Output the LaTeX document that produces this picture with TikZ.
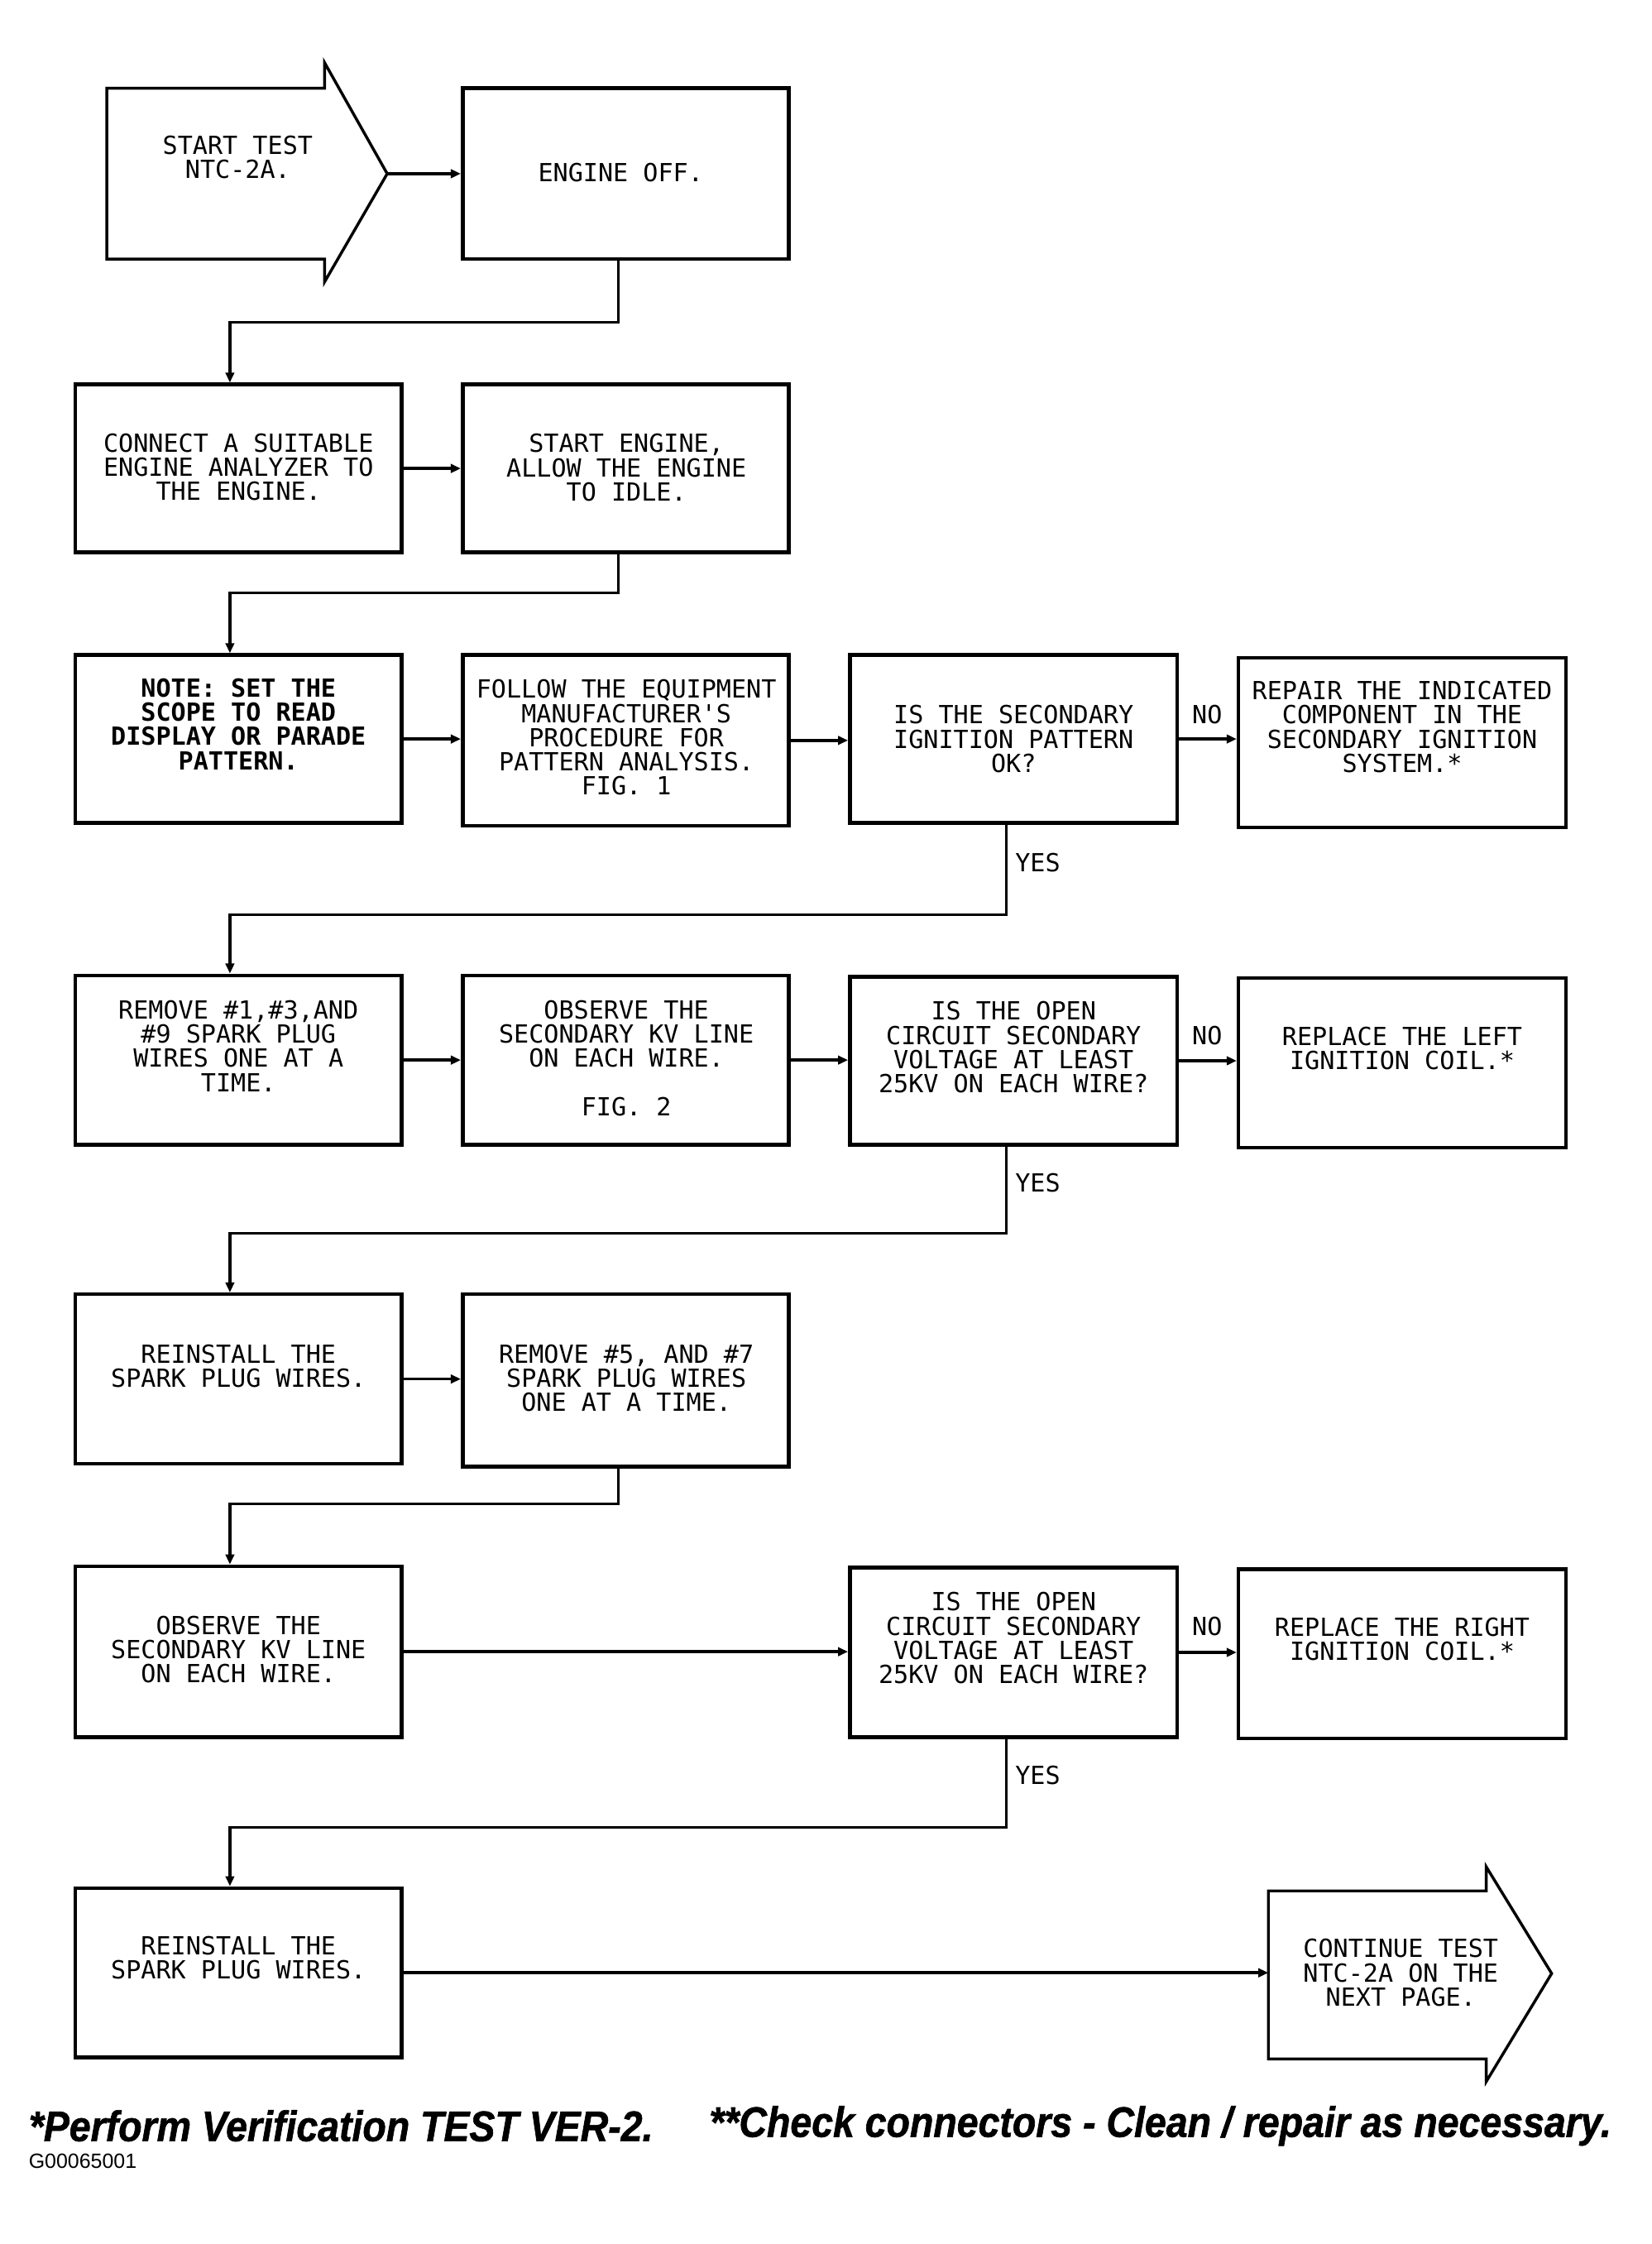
\documentclass[tikz,border=0pt]{standalone}
\usepackage{fontspec}
\usetikzlibrary{calc,arrows.meta}
\newfontfamily\plotfont{DejaVu Sans Mono}
\newfontfamily\notefont{Liberation Sans}[FakeStretch=0.9,FakeBold=1.2]
\newfontfamily\codefont{Liberation Sans}
\begin{document}
\begin{tikzpicture}[x=1pt,y=-1pt,
  box/.style={draw,line width=2.6pt,inner sep=0pt,minimum width=229pt,minimum height=119pt},
  arrowshape/.style={draw,line width=2pt,line join=miter},
  txt/.style={align=center,inner sep=0pt,font=\plotfont\fontsize{17.5}{17}\selectfont},
  boldtxt/.style={txt,font=\plotfont\bfseries\fontsize{17.5}{17}\selectfont},
  conn/.style={line width=2pt,-{Triangle[length=7pt,width=6pt]}},
  lbl/.style={inner sep=0pt,font=\plotfont\fontsize{17.5}{17}\selectfont},
  foot/.style={anchor=west,inner sep=0pt,font=\notefont\bfseries\itshape\fontsize{30}{31}\selectfont}]
\useasboundingbox (0,0) rectangle (1160,1576);

% start arrow
\draw[arrowshape] (75,62) -- (228,62) -- (228,44) -- (272,122) -- (228,198) -- (228,182) -- (75,182) -- cycle;
\coordinate (starttip) at (272,122);
\node[txt] (tstart) at (167,110.5) {START TEST\\NTC-2A.};

% boxes
\node[box,minimum height=120pt] (eng) at (439.5,122) {};
\node[box,minimum height=118pt] (conn) at (167.5,329) {};
\node[box,minimum height=118pt] (start2) at (439.5,329) {};
\node[box,minimum height=118pt] (note) at (167.5,519) {};
\node[box,minimum height=120pt] (follow) at (439.5,520) {};
\node[box,minimum width=230pt,minimum height=118pt] (dec1) at (712,519) {};
\node[box,minimum width=230pt] (repair) at (985,521.5) {};
\node[box] (remove) at (167.5,744.5) {};
\node[box] (obs1) at (439.5,744.5) {};
\node[box,minimum width=230pt,minimum height=118pt] (dec2) at (712,745) {};
\node[box,minimum width=230pt] (left) at (985,746.5) {};
\node[box] (reinst1) at (167.5,968.5) {};
\node[box,minimum height=121pt] (rem57) at (439.5,969.5) {};
\node[box,minimum height=120pt] (obs2) at (167.5,1160) {};
\node[box,minimum width=230pt] (dec3) at (712,1160.5) {};
\node[box,minimum width=230pt] (right) at (985,1161.5) {};
\node[box] (reinst2) at (167.5,1385.5) {};

% continue arrow
\draw[arrowshape] (891,1328) -- (1044,1328) -- (1044,1311) -- (1090,1386) -- (1044,1462) -- (1044,1446) -- (891,1446) -- cycle;
\coordinate (contin) at (891,1385.5);
\node[txt] (tcont) at (984,1385.5) {CONTINUE TEST\\NTC-2A ON THE\\NEXT PAGE.};

% texts
\node[txt] (teng) at (436,121) {ENGINE OFF.};
\node[txt] (tconn) at (167.5,328) {CONNECT A SUITABLE\\ENGINE ANALYZER TO\\THE ENGINE.};
\node[txt] (tstart2) at (440,328.5) {START ENGINE,\\ALLOW THE ENGINE\\TO IDLE.};
\node[boldtxt] (tnote) at (167.5,508.5) {NOTE: SET THE\\SCOPE TO READ\\DISPLAY OR PARADE\\PATTERN.};
\node[txt] (tfollow) at (440,518) {FOLLOW THE EQUIPMENT\\MANUFACTURER'S\\PROCEDURE FOR\\PATTERN ANALYSIS.\\FIG. 1};
\node[txt] (tdec1) at (712,519) {IS THE SECONDARY\\IGNITION PATTERN\\OK?};
\node[txt] (trepair) at (985,510.5) {REPAIR THE INDICATED\\COMPONENT IN THE\\SECONDARY IGNITION\\SYSTEM.*};
\node[txt] (tremove) at (167.5,734.5) {REMOVE \#1,\#3,AND\\\#9 SPARK PLUG\\WIRES ONE AT A\\TIME.};
\node[txt] (tobs1) at (440,743) {OBSERVE THE\\SECONDARY KV LINE\\ON EACH WIRE.\\[17pt]FIG. 2};
\node[txt] (tdec2) at (712,735.5) {IS THE OPEN\\CIRCUIT SECONDARY\\VOLTAGE AT LEAST\\25KV ON EACH WIRE?};
\node[txt] (tleft) at (985,736.5) {REPLACE THE LEFT\\IGNITION COIL.*};
\node[txt] (treinst1) at (167.5,959.5) {REINSTALL THE\\SPARK PLUG WIRES.};
\node[txt] (trem57) at (440,968) {REMOVE \#5, AND \#7\\SPARK PLUG WIRES\\ONE AT A TIME.};
\node[txt] (tobs2) at (167.5,1158.5) {OBSERVE THE\\SECONDARY KV LINE\\ON EACH WIRE.};
\node[txt] (tdec3) at (712,1150.5) {IS THE OPEN\\CIRCUIT SECONDARY\\VOLTAGE AT LEAST\\25KV ON EACH WIRE?};
\node[txt] (tright) at (985,1151) {REPLACE THE RIGHT\\IGNITION COIL.*};
\node[txt] (treinst2) at (167.5,1375) {REINSTALL THE\\SPARK PLUG WIRES.};

% horizontal connectors
\draw[conn] (starttip) -- (eng.west |- starttip);
\draw[conn] (conn.east) -- (conn.east -| start2.west);
\draw[conn] (note.east) -- (note.east -| follow.west);
\draw[conn] (follow.east) -- (follow.east -| dec1.west);
\draw[conn] (dec1.east) -- (dec1.east -| repair.west);
\draw[conn] (remove.east) -- (remove.east -| obs1.west);
\draw[conn] (obs1.east) -- (obs1.east -| dec2.west);
\draw[conn] (dec2.east) -- (dec2.east -| left.west);
\draw[conn] (reinst1.east) -- (reinst1.east -| rem57.west);
\draw[conn] (obs2.east) -- (obs2.east -| dec3.west);
\draw[conn] (dec3.east) -- (dec3.east -| right.west);
\draw[conn] (reinst2.east) -- (contin);

% vertical connectors
\draw[conn] ($(eng.south)+(-5,0)$) -- ++(0,43) -| ($(conn.north)+(-6,0)$);
\draw[conn] ($(start2.south)+(-5,0)$) -- ++(0,27) -| ($(note.north)+(-6,0)$);
\draw[conn] ($(dec1.south)+(-5,0)$) -- ++(0,63) -| ($(remove.north)+(-6,0)$);
\draw[conn] ($(dec2.south)+(-5,0)$) -- ++(0,61) -| ($(reinst1.north)+(-6,0)$);
\draw[conn] ($(rem57.south)+(-5,0)$) -- ++(0,25) -| ($(obs2.north)+(-6,0)$);
\draw[conn] ($(dec3.south)+(-5,0)$) -- ++(0,62) -| ($(reinst2.north)+(-6,0)$);

% labels
\node[lbl] (no1) at (848,502) {NO};
\node[lbl] (no2) at (848,727) {NO};
\node[lbl] (no3) at (848,1142) {NO};
\node[lbl,anchor=west] (yes1) at (713,606) {YES};
\node[lbl,anchor=west] (yes2) at (713,831) {YES};
\node[lbl,anchor=west] (yes3) at (713,1247) {YES};

% footnotes
\node[foot] (fn1) at (20,1493) {*Perform Verification TEST VER-2.};
\node[foot] (fn2) at (498,1493) {**Check connectors - Clean / repair as necessary.};
\node[anchor=west,inner sep=0pt,font=\codefont\fontsize{14.5}{15}\selectfont] (code) at (20,1518) {G00065001};
\end{tikzpicture}
\end{document}
